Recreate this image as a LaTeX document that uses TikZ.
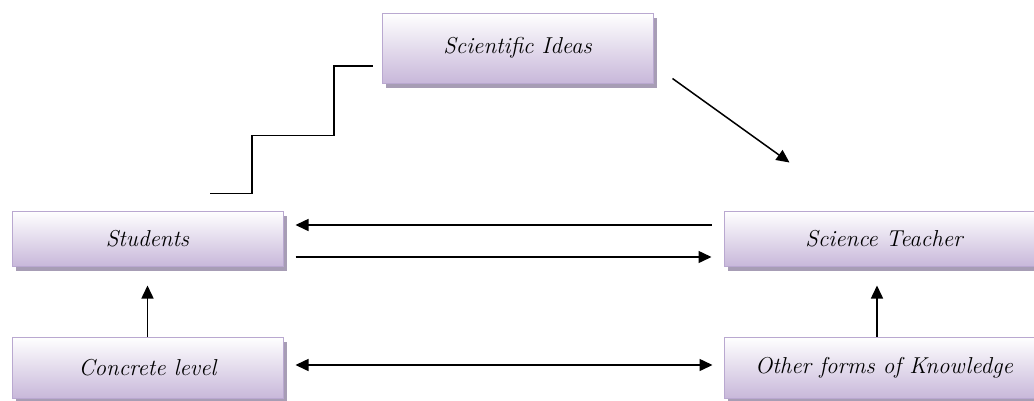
\documentclass[tikz,border=0pt]{standalone}
\usetikzlibrary{arrows.meta,shadows}
\definecolor{boxline}{HTML}{B9A8D0}
\definecolor{boxbot}{HTML}{C8B8DA}
\definecolor{shadowcol}{HTML}{A79DB5}
\tikzset{
  box/.style={rectangle, draw=boxline, line width=1pt, top color=white, bottom color=boxbot,
    minimum width=271pt, font=\fontsize{23}{25}\selectfont\itshape,
    drop shadow={shadow xshift=4pt, shadow yshift=-5pt, fill=shadowcol, opacity=1}},
  conn/.style={line width=1.5pt, black},
  tip/.style={-{Triangle[length=13pt,width=12pt]}},
}
\begin{document}
\begin{tikzpicture}[x=1pt,y=-1pt]
\useasboundingbox (0,0) rectangle (1034,400);
\node[box, minimum height=70pt] (si) at (517.5,48) {Scientific Ideas};
\node[box, minimum height=55pt] (stud) at (147.5,238.5) {Students};
\node[box, minimum height=55pt, minimum width=320pt] (teach) at (884,238.5) {Science Teacher};
\node[box, minimum height=61pt] (conc) at (147.5,367.5) {Concrete level};
\node[box, minimum height=61pt, minimum width=320pt] (other) at (884,367.5) {Other forms of Knowledge};
% staircase
\coordinate (stairstart) at ([xshift=62.5pt,yshift=17pt]stud.north);
\coordinate (stairend) at ([xshift=-9pt,yshift=-18pt]si.west);
\draw[conn] (stairstart) -- ++(42,0) -- ++(0,-58) -- ++(82,0) |- (stairend);
% diagonal
\coordinate (diagend) at ([xshift=66pt,yshift=48pt]teach.north west);
\draw[conn,tip] ([xshift=19pt,yshift=5pt]si.south east) -- (diagend);
% horizontals
\draw[conn,tip,shorten <=12pt,shorten >=12pt] ([yshift=13.5pt]teach.west) -- ([yshift=13.5pt]stud.east);
\draw[conn,tip,shorten <=12pt,shorten >=12pt] ([yshift=-18.5pt]stud.east) -- ([yshift=-18.5pt]teach.west);
\draw[conn,{Triangle[length=13pt,width=12pt]}-{Triangle[length=13pt,width=12pt]},shorten <=12pt,shorten >=11pt] ([yshift=2.5pt]conc.east) -- ([yshift=2.5pt]other.west);
% verticals
\draw[conn,tip,shorten >=19pt] (conc.north) -- (stud.south);
\draw[conn,tip,shorten >=19pt] ([xshift=-7pt]other.north) -- ([xshift=-7pt]teach.south);
\end{tikzpicture}
\end{document}
